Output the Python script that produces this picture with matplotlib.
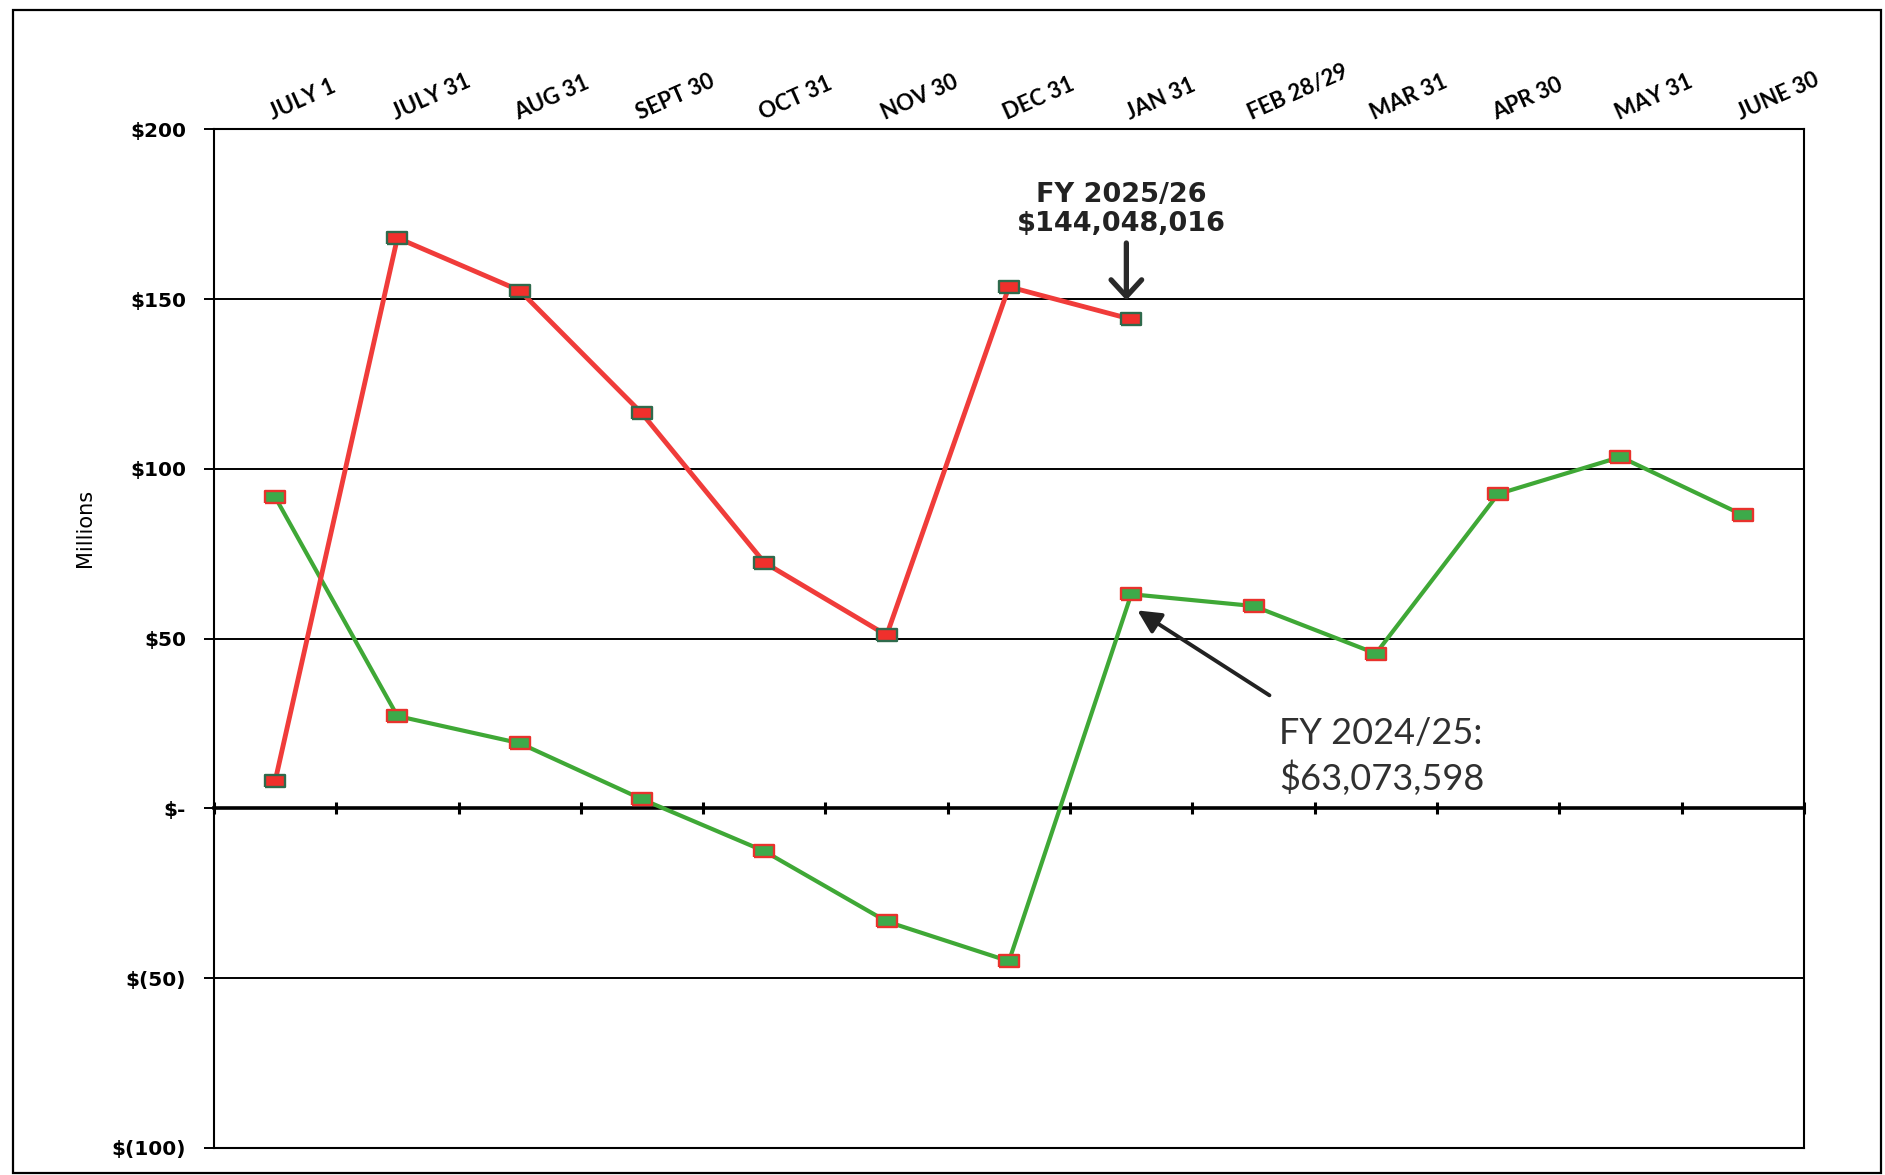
import numpy as np
import matplotlib
matplotlib.use("Agg")
import matplotlib.pyplot as plt
from matplotlib.patches import Rectangle


MONTHS = ["JULY 1", "JULY 31", "AUG 31", "SEPT 30", "OCT 31", "NOV 30", "DEC 31",
          "JAN 31", "FEB 28/29", "MAR 31", "APR 30", "MAY 31", "JUNE 30"]

# millions of dollars
FY2526 = [8.0, 168.0, 152.5, 116.3, 72.4, 51.0, 153.6, 144.05]
FY2425 = [91.7, 27.2, 19.2, 2.7, -12.6, -33.3, -45.0, 63.07, 59.6, 45.6, 92.6, 103.5, 86.4]

YTICKS = [-100, -50, 0, 50, 100, 150, 200]
YTICK_LABELS = ["$(100)", "$(50)", "$-", "$50", "$100", "$150", "$200"]

RED = "#f03c3a"
GREEN = "#3fa836"

# flat rectangle marker
RECT = [(-1.6, -1), (1.6, -1), (1.6, 1), (-1.6, 1), (-1.6, -1)]


def main():
    fig = plt.figure(figsize=(18.85, 11.75), dpi=100)
    fig.patch.set_facecolor("white")
    ax = fig.add_axes([0.1135, 0.023, 0.8435, 0.867])

    # outer frame round the whole page
    fig.patches.append(Rectangle((13 / 1885, 2 / 1175), 1868 / 1885, 1163 / 1175,
                                 transform=fig.transFigure, fill=False,
                                 edgecolor="black", linewidth=1.6))

    x25 = np.arange(len(FY2425))
    x26 = np.arange(len(FY2526))

    ax.plot(x25, FY2425, color=GREEN, linewidth=3.0, marker=RECT, markersize=14,
            markerfacecolor="#3daa4a", markeredgecolor="#e8322c", markeredgewidth=1.7,
            zorder=4)
    ax.plot(x26, FY2526, color=RED, linewidth=3.5, marker=RECT, markersize=14,
            markerfacecolor="#f0302c", markeredgecolor="#2f6a4c", markeredgewidth=1.7,
            zorder=5)

    ax.set_xlim(-0.5, len(MONTHS) - 0.5)
    ax.set_ylim(-100, 200)

    ax.set_yticks(YTICKS)
    ax.set_yticklabels(YTICK_LABELS, fontfamily="DejaVu Sans", fontweight="bold", fontsize=14.5)
    ax.tick_params(axis="y", direction="out", length=7, width=1.4, pad=13, colors="black")
    ax.yaxis.grid(True, color="black", linewidth=1.4)
    ax.set_axisbelow(True)

    ax.xaxis.tick_top()
    ax.set_xticks(x25)
    ax.set_xticklabels(MONTHS, fontfamily="Lato", fontweight="bold", fontsize=16)
    ax.tick_params(axis="x", length=0, pad=4)
    for lab in ax.get_xticklabels():
        lab.set_rotation(24)
        lab.set_rotation_mode("anchor")
        lab.set_ha("left")
        lab.set_va("bottom")

    for sp in ax.spines.values():
        sp.set_linewidth(1.5)

    # zero line with the category-boundary ticks
    zero = ax.secondary_xaxis(100 / 300)
    zero.set_xticks(np.arange(len(MONTHS) + 1) - 0.5)
    zero.set_xticklabels([])
    zero.tick_params(direction="inout", length=9, width=2.2)
    for sp in zero.spines.values():
        sp.set_linewidth(2.6)

    fig.text(85 / 1885, 1 - 528 / 1175, "Millions", rotation=90, ha="center", va="center",
             fontsize=15, family=["Liberation Sans Narrow", "DejaVu Sans"])

    # FY 2025/26 callout
    ax.text(6.92, 178.5, "FY 2025/26", ha="center", va="baseline", fontsize=19.5,
            fontfamily="DejaVu Sans", fontweight="bold", color="#222222")
    ax.text(6.92, 170.0, "$144,048,016", ha="center", va="baseline", fontsize=19.5,
            fontfamily="DejaVu Sans", fontweight="bold", color="#222222")
    ax.annotate("", xy=(6.96, 149.6), xytext=(6.96, 166.5),
                arrowprops=dict(arrowstyle="->,head_width=0.55,head_length=0.6",
                                mutation_scale=20, lw=3.8, color="#2a2a2a",
                                shrinkA=0, shrinkB=0))

    # FY 2024/25 callout
    ax.text(8.21, 19.1, "FY 2024/25:", ha="left", va="baseline", fontsize=26,
            fontfamily="Lato", color="#303030")
    ax.text(8.21, 5.3, "$63,073,598", ha="left", va="baseline", fontsize=26,
            fontfamily="Lato", color="#303030")
    ax.annotate("", xy=(7.05, 58.3), xytext=(8.13, 33.3),
                arrowprops=dict(arrowstyle="-|>,head_width=0.35,head_length=0.7",
                                mutation_scale=20, lw=2.8, color="#222222",
                                shrinkA=0, shrinkB=0))

    fig.savefig("out.png", dpi=100, facecolor="white")
    plt.close(fig)


if __name__ == "__main__":
    main()
